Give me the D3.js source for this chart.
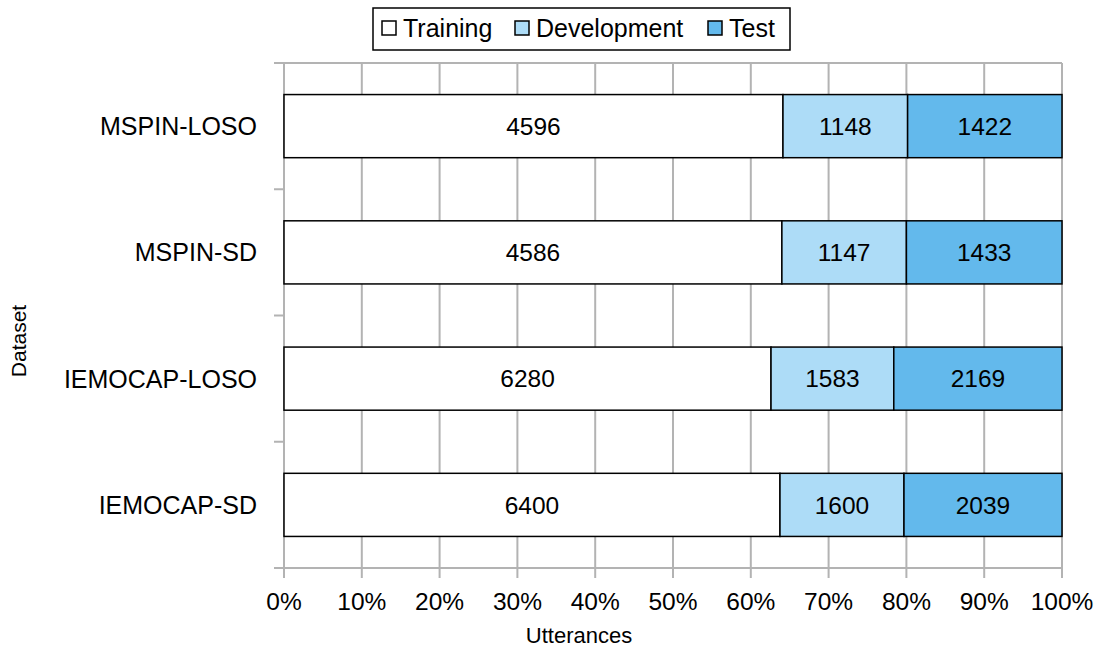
<!DOCTYPE html>
<html>
<head>
<meta charset="utf-8">
<script src="https://cdn.jsdelivr.net/npm/d3@7"></script>
<style>
  body { margin: 0; background: #fff; }
  svg { font-family: "Liberation Sans", Arial, sans-serif; }
</style>
</head>
<body>
<svg width="1097" height="649"></svg>
<script>
const datasets = ["MSPIN-LOSO", "MSPIN-SD", "IEMOCAP-LOSO", "IEMOCAP-SD"];
const seriesNames = ["Training", "Development", "Test"];
const training = [4596, 4586, 6280, 6400];
const development = [1148, 1147, 1583, 1600];
const test = [1422, 1433, 2169, 2039];
const colors = ["#ffffff", "#addcf7", "#63b9ec"];
const ticks = [0, 0.1, 0.2, 0.3, 0.4, 0.5, 0.6, 0.7, 0.8, 0.9, 1];

const svg = d3.select("svg");
const margin = { top: 63, right: 35, bottom: 81, left: 284 };
const width = 1097 - margin.left - margin.right;
const height = 649 - margin.top - margin.bottom;

const g = svg.append("g")
  .attr("transform", "translate(" + margin.left + "," + margin.top + ")");

const x = d3.scaleLinear().domain([0, 1]).range([0, width]);
const y = d3.scaleBand().domain(datasets).range([0, height]).paddingInner(0.5).paddingOuter(0.25);

// rows with stacked shares
const rows = datasets.map((d, i) => {
  const vals = [training[i], development[i], test[i]];
  const total = d3.sum(vals);
  let acc = 0;
  return vals.map((v, j) => {
    const seg = { name: d, series: j, value: v, x0: acc / total, x1: (acc + v) / total };
    acc += v;
    return seg;
  });
});

// gridlines
g.selectAll(".grid")
  .data(ticks)
  .enter()
  .append("line")
  .attr("x1", (d) => x(d))
  .attr("x2", (d) => x(d))
  .attr("y1", 0)
  .attr("y2", height + 10)
  .attr("stroke", "#b3b3b3")
  .attr("stroke-width", 2);

// category boundaries (top line, ticks, bottom axis)
const bounds = d3.range(datasets.length + 1).map((i) => (i * height) / datasets.length);
g.selectAll(".ctick")
  .data(bounds)
  .enter()
  .append("line")
  .attr("x1", -10)
  .attr("x2", (d, i) => (i === 0 || i === datasets.length ? width : 0))
  .attr("y1", (d) => d)
  .attr("y2", (d) => d)
  .attr("stroke", "#b3b3b3")
  .attr("stroke-width", 2);

// bars
rows.forEach((row) => {
  g.selectAll(null)
    .data(row)
    .enter()
    .append("rect")
    .attr("x", (d) => x(d.x0))
    .attr("y", (d) => y(d.name))
    .attr("width", (d) => x(d.x1) - x(d.x0))
    .attr("height", y.bandwidth())
    .attr("fill", (d) => colors[d.series])
    .attr("stroke", "#000")
    .attr("stroke-width", 1.5);

  g.selectAll(null)
    .data(row)
    .enter()
    .append("text")
    .attr("x", (d) => x((d.x0 + d.x1) / 2))
    .attr("y", (d) => y(d.name) + y.bandwidth() / 2)
    .attr("dy", "0.36em")
    .attr("text-anchor", "middle")
    .style("font-size", "24.5px")
    .text((d) => d.value);
});

// category labels
g.selectAll(".clabel")
  .data(datasets)
  .enter()
  .append("text")
  .attr("x", -27)
  .attr("y", (d) => y(d) + y.bandwidth() / 2)
  .attr("dy", "0.36em")
  .attr("text-anchor", "end")
  .style("font-size", "25px")
  .text((d) => d);

// x tick labels
g.selectAll(".xlabel")
  .data(ticks)
  .enter()
  .append("text")
  .attr("x", (d) => x(d))
  .attr("y", height + 42)
  .attr("text-anchor", "middle")
  .style("font-size", "24.5px")
  .text((d) => d3.format(".0%")(d));

// axis titles
svg.append("text")
  .attr("x", 579)
  .attr("y", 643)
  .attr("text-anchor", "middle")
  .style("font-size", "22px")
  .text("Utterances");

svg.append("text")
  .attr("transform", "translate(26,341) rotate(-90)")
  .attr("text-anchor", "middle")
  .style("font-size", "21px")
  .text("Dataset");

// legend
const legend = svg.append("g");
legend.append("rect")
  .attr("x", 373)
  .attr("y", 8)
  .attr("width", 417)
  .attr("height", 42)
  .attr("fill", "#fff")
  .attr("stroke", "#000")
  .attr("stroke-width", 1.5);

const legendX = [382, 515, 708];
seriesNames.forEach((s, i) => {
  legend.append("rect")
    .attr("x", legendX[i])
    .attr("y", 21)
    .attr("width", 14)
    .attr("height", 14)
    .attr("fill", colors[i])
    .attr("stroke", "#000")
    .attr("stroke-width", 1.5);
  legend.append("text")
    .attr("x", legendX[i] + 21)
    .attr("y", 28)
    .attr("dy", "0.36em")
    .style("font-size", "25px")
    .text(s);
});
</script>
</body>
</html>
